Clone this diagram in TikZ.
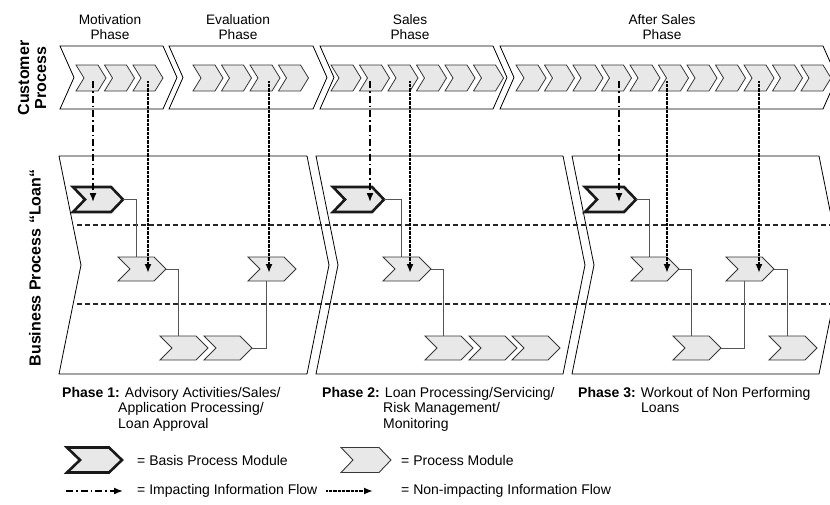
\documentclass[tikz,border=0pt]{standalone}
\usepackage{fontspec}
\setmainfont{Liberation Sans}
\usetikzlibrary{calc,arrows.meta}
\definecolor{modfill}{RGB}{232,232,232}
\definecolor{modline}{RGB}{55,55,55}
\definecolor{connline}{RGB}{85,85,85}
% #1 style, #2 name, #3 x left, #4 y mid, #5 width, #6 half height, #7 depth
\newcommand\chv[7]{%
  \draw[#1] (#3,#4-#6) -- (#3+#5-#7,#4-#6) -- (#3+#5,#4) -- (#3+#5-#7,#4+#6)
    -- (#3,#4+#6) -- (#3+#7,#4) -- cycle;
  \coordinate (#2) at (#3+#5/2,#4);
  \coordinate (#2t) at (#3+#5,#4);
}
\tikzset{
  bigchev/.style={draw=black,line width=0.8pt,fill=white,line join=miter},
  smallchev/.style={draw=modline,line width=0.8pt,fill=modfill},
  framechev/.style={draw=black,line width=0.8pt,fill=white},
  basismod/.style={draw=black!90,line width=2.6pt,fill=modfill,line join=miter},
  procmod/.style={draw=modline,line width=0.9pt,fill=modfill},
  conn/.style={draw=connline,line width=1pt},
  impact/.style={line width=1.6pt,dash pattern=on 7pt off 3pt on 1.5pt off 3pt,
    -{Latex[length=9pt,width=7pt]}},
  nonimpact/.style={line width=2pt,dash pattern=on 0.7pt off 0.6pt,
    -{Latex[length=9pt,width=7pt]}},
  sep/.style={draw=black!85,line width=1.5pt,dash pattern=on 5pt off 3pt},
  phasetxt/.style={align=center,font=\fontsize{13.7}{15}\selectfont},
  sidetxt/.style={rotate=90,align=center,font=\bfseries\fontsize{16}{17}\selectfont},
  bottxt/.style={anchor=north west,align=left,inner sep=0pt,font=\fontsize{14}{15.5}\selectfont},
  legtxt/.style={anchor=west,inner sep=0pt,font=\fontsize{14}{15.5}\selectfont},
}
\begin{document}
\begin{tikzpicture}[x=1pt,y=-1pt]
\useasboundingbox (0,0) rectangle (830,504);
\clip (0,0) rectangle (830,504);

% ---------- Customer process ----------
\chv{bigchev}{P1}{60}{77.5}{117}{31.5}{14}
\chv{bigchev}{P2}{169}{77.5}{158}{31.5}{14}
\chv{bigchev}{P3}{320}{77.5}{187}{31.5}{14}
\chv{bigchev}{P4}{500}{77.5}{337}{31.5}{14}
\foreach \i in {0,...,2}{\chv{smallchev}{mo\i}{76+28.5*\i}{78}{30}{13}{8}}
\foreach \i in {0,...,3}{\chv{smallchev}{ev\i}{193+28.5*\i}{78}{30}{13}{8}}
\foreach \i in {0,...,5}{\chv{smallchev}{sa\i}{331+28.5*\i}{78}{30}{13}{8}}
\foreach \i in {0,...,10}{\chv{smallchev}{as\i}{516+28.5*\i}{78}{30}{13}{8}}

\node[phasetxt] (t1) at (110,27.5) {Motivation\\Phase};
\node[phasetxt] (t2) at (238,27.5) {Evaluation\\Phase};
\node[phasetxt] (t3) at (410,27.5) {Sales\\Phase};
\node[phasetxt] (t4) at (662,27.5) {After Sales\\Phase};

\node[sidetxt] (cp) at (32,78) {Customer\\Process};
\node[sidetxt] (bp) at (35,268) {Business Process “Loan“};

% ---------- Business process frames ----------
\chv{framechev}{F1}{59}{265}{270}{109}{22}
\chv{framechev}{F2}{316}{265}{269}{109}{22}
\chv{framechev}{F3}{572}{265}{269}{109}{22}

\coordinate (s1a) at (77,225); \coordinate (s1b) at (830,225);
\coordinate (s2a) at (77,304); \coordinate (s2b) at (830,304);
\draw[sep] (s1a) -- (s1b);
\draw[sep] (s2a) -- (s2b);

% ---------- modules ----------
\chv{basismod}{B1}{73}{199.5}{50}{12.5}{12}
\chv{basismod}{B2}{333}{199.5}{51}{12.5}{12}
\chv{basismod}{B3}{585}{199.5}{51}{12.5}{12}
\chv{procmod}{M1}{118}{269}{48}{12}{12}
\chv{procmod}{M2}{248}{269}{48}{12}{12}
\chv{procmod}{M3}{383}{269}{48}{12}{12}
\chv{procmod}{M4}{631}{269}{48}{12}{12}
\chv{procmod}{M5}{726}{269}{48}{12}{12}
\chv{procmod}{L1}{160}{348}{48}{12}{12}
\chv{procmod}{L2}{204}{348}{48}{12}{12}
\chv{procmod}{L3}{425}{348}{48}{12}{12}
\chv{procmod}{L4}{469}{348}{48}{12}{12}
\chv{procmod}{L5}{512}{348}{48}{12}{12}
\chv{procmod}{L6}{673}{348}{48}{12}{12}
\chv{procmod}{L7}{769}{348}{48}{12}{12}

% ---------- connectors ----------
\draw[conn] (B1t) -| ($(M1)+(-6,-12)$);
\draw[conn] (M1t) -| ($(L1)+(-6,-12)$);
\draw[conn] (L2t) -| ($(M2)+(-6,12)$);
\draw[conn] (B2t) -| ($(M3)+(-6,-12)$);
\draw[conn] (M3t) -| ($(L3)+(-6,-12)$);
\draw[conn] (B3t) -| ($(M4)+(-6,-12)$);
\draw[conn] (M4t) -| ($(L6)+(-6,-12)$);
\draw[conn] (L6t) -| ($(M5)+(-6,12)$);
\draw[conn] (M5t) -| ($(L7)+(-6,-12)$);

% ---------- information flows ----------
\draw[impact] ($(mo0)+(2,3)$) -- ($(mo0)+(2,124)$);
\draw[nonimpact] ($(mo2)+(0,3)$) -- ($(mo2)+(0,195)$);
\draw[nonimpact] ($(ev2)+(4,3)$) -- ($(ev2)+(4,195)$);
\draw[impact] ($(sa1)+(-4.5,3)$) -- ($(sa1)+(-4.5,124)$);
\draw[nonimpact] ($(sa2)+(7,3)$) -- ($(sa2)+(7,195)$);
\draw[impact] ($(as3)+(2.5,3)$) -- ($(as3)+(2.5,124)$);
\draw[nonimpact] ($(as5)+(-6.5,3)$) -- ($(as5)+(-6.5,195)$);
\draw[nonimpact] ($(as8)+(0,3)$) -- ($(as8)+(0,195)$);

% ---------- phase descriptions ----------
\node[bottxt] (d1) at (62,387) {\textbf{Phase 1:} Advisory Activities/Sales/\\\hspace*{56pt}Application Processing/\\\hspace*{56pt}Loan Approval};
\node[bottxt] (d2) at (322,387) {\textbf{Phase 2:} Loan Processing/Servicing/\\\hspace*{61pt}Risk Management/\\\hspace*{61pt}Monitoring};
\node[bottxt] (d3) at (578,387) {\textbf{Phase 3:} Workout of Non Performing\\\hspace*{63pt}Loans};

% ---------- legend ----------
\chv{basismod}{LB}{67}{460}{55}{12.5}{13}
\node[legtxt] (lb) at (137,460) {= Basis Process Module};
\chv{procmod}{LP}{341}{460}{50}{12.5}{12}
\node[legtxt] (lp) at (401,460) {= Process Module};
\coordinate (li1) at (66,491); \coordinate (li2) at (123,491);
\draw[impact] (li1) -- (li2);
\node[legtxt] (li) at (137,491) {= Impacting Information Flow};
\coordinate (ln1) at (326,491); \coordinate (ln2) at (373,491);
\draw[nonimpact] (ln1) -- (ln2);
\node[legtxt] (ln) at (401,491) {= Non-impacting Information Flow};
\end{tikzpicture}
\end{document}
